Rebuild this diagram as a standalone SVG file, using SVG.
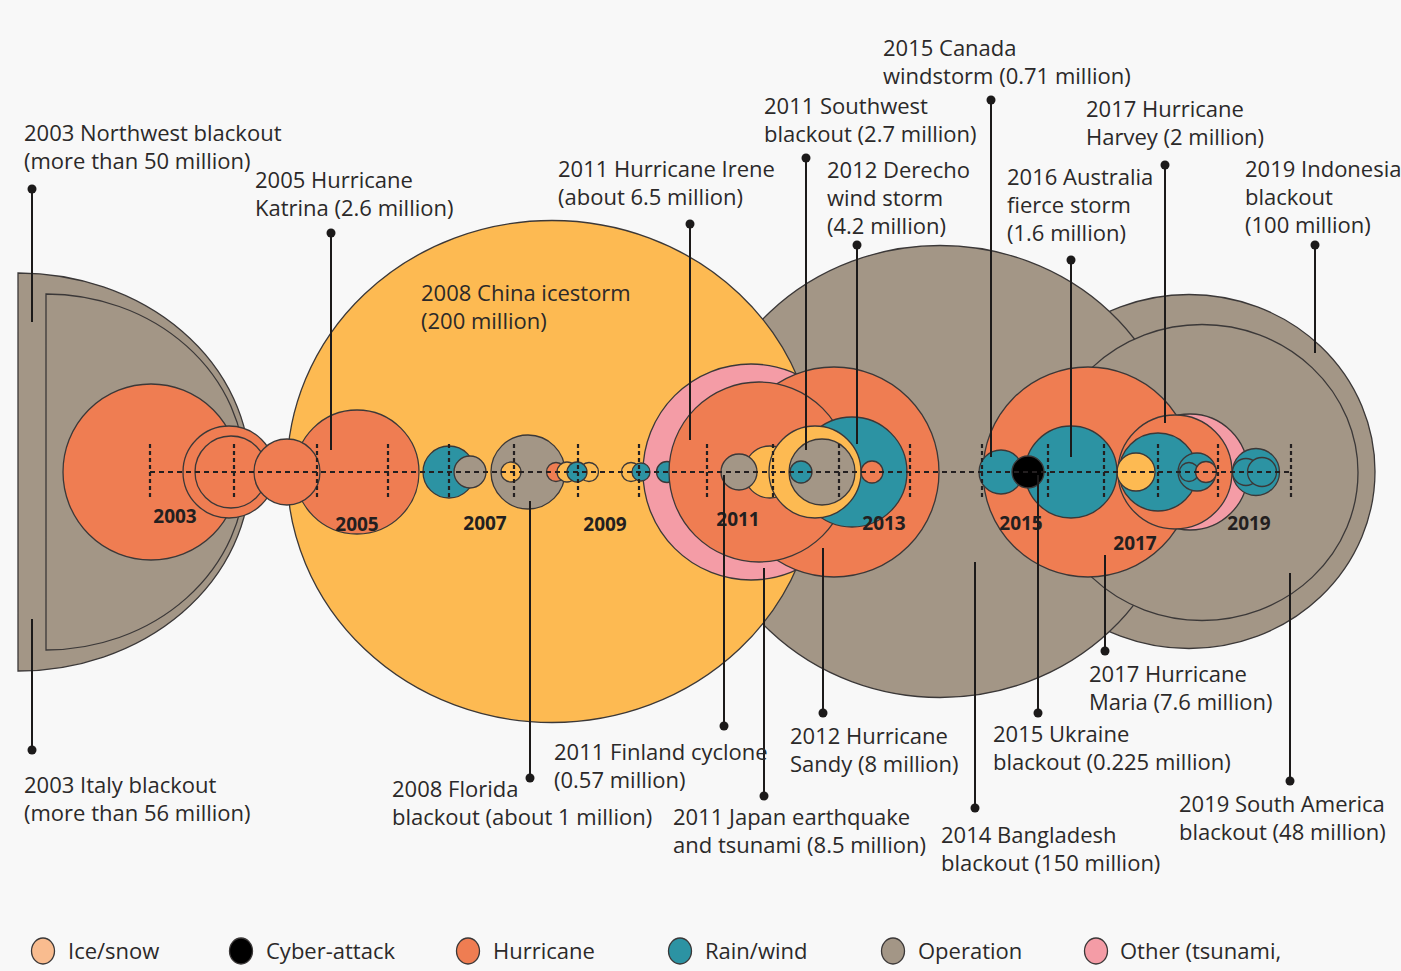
<svg xmlns="http://www.w3.org/2000/svg" width="1401" height="971" viewBox="0 0 1401 971">
<style>
.c{stroke:#3b3838;stroke-width:1.3}
.o{fill:#EF7D52}.y{fill:#FDBA52}.t{fill:#2C93A3}.g{fill:#A39686}.p{fill:#F49CA6}.k{fill:#000}.s{fill:#F9BC8F}
.lbl{font-family:"Open Sans","Liberation Sans",sans-serif;font-size:22px;fill:#2b2929}
.yr{font-family:"Open Sans","Liberation Sans",sans-serif;font-size:19px;font-weight:bold;fill:#231f20;text-anchor:middle}
.ln{stroke:#1c1a1a;stroke-width:2;fill:none}
.dot{fill:#1c1a1a}
.ax{stroke:#231f20;stroke-width:2.2;stroke-dasharray:5 4;fill:none}
.tk{stroke:#231f20;stroke-width:2.2;stroke-dasharray:4 3;fill:none}
</style>
<rect width="1401" height="971" fill="#F8F8F8"/>

<g id="big-shapes">
<path id="n-2003-northwest" class="c g" d="M18,273 A232,199 0 0 1 18,671 Z"/>
<path id="n-2003-italy" class="c g" d="M46,294 A199,178 0 0 1 46,650 Z"/>
<ellipse id="n-2019-indonesia" class="c g" cx="1189" cy="471.5" rx="186" ry="177"/>
<ellipse id="n-2014-bangladesh" class="c g" cx="940" cy="471.5" rx="240" ry="226"/>
<ellipse id="n-2008-china" class="c y" cx="552" cy="471.5" rx="265" ry="251"/>
<ellipse id="n-2019-southamerica" class="c g" cx="1202" cy="472.5" rx="156" ry="148"/>
</g>

<g id="circles-2003-2010">
<circle id="n-2003-a" class="c o" cx="151" cy="472" r="88"/>
<circle id="n-2004-a" class="c o" cx="229" cy="472" r="46"/>
<circle id="n-2004-b" class="c o" cx="231" cy="472" r="36"/>
<circle id="n-2005-katrina" class="c o" cx="357" cy="472" r="62"/>
<circle id="n-2004-c" class="c o" cx="287" cy="472" r="33"/>
<circle id="n-2006-a" class="c t" cx="449" cy="472" r="26"/>
<circle id="n-2007-a" class="c g" cx="470" cy="472" r="16"/>
<circle id="n-2008-florida" class="c g" cx="528" cy="472" r="37"/>
<circle id="n-2008-b" class="c y" cx="511" cy="472" r="10"/>
<circle id="n-2009-a" class="c o" cx="556" cy="472" r="9.5"/>
<circle id="n-2009-b" class="c y" cx="567" cy="472" r="10"/>
<circle id="n-2009-c" class="c y" cx="589" cy="472" r="9.5"/>
<circle id="n-2009-d" class="c t" cx="577" cy="472" r="10"/>
<circle id="n-2010-a" class="c y" cx="631" cy="472" r="9.5"/>
</g>

<g id="circles-2011-2013">
<circle id="n-2011-japan" class="c p" cx="751" cy="472" r="108"/>
<circle id="n-2010-b" class="c t" cx="641" cy="472" r="9"/>
<circle id="n-2010-c" class="c t" cx="667" cy="472" r="10.5"/>
<circle id="n-2012-sandy" class="c o" cx="834" cy="472" r="105"/>
<circle id="n-2011-irene" class="c o" cx="759" cy="472" r="90"/>
<circle id="n-2012-derecho" class="c t" cx="852" cy="472" r="55"/>
<circle id="n-2011-b" class="c y" cx="770" cy="472" r="26"/>
<circle id="n-2011-c" class="c y" cx="815" cy="472" r="46"/>
<circle id="n-2011-southwest" class="c g" cx="822" cy="472" r="33"/>
<circle id="n-2011-finland" class="c g" cx="739" cy="472" r="18"/>
<circle id="n-2012-b" class="c t" cx="801" cy="472" r="11"/>
<circle id="n-2013-a" class="c o" cx="872" cy="472" r="11"/>
</g>

<g id="circles-2015-2019">
<circle id="n-2017-maria" class="c o" cx="1088" cy="472" r="105"/>
<circle id="n-2018-a" class="c p" cx="1190" cy="472" r="58"/>
<circle id="n-2017-harvey" class="c o" cx="1175" cy="472" r="57"/>
<circle id="n-2017-b" class="c t" cx="1158" cy="472" r="39"/>
<circle id="n-2017-c" class="c y" cx="1136" cy="472" r="19"/>
<circle id="n-2018-b" class="c t" cx="1197" cy="472" r="19"/>
<circle id="n-2018-c" class="c t" cx="1189" cy="472" r="9.5"/>
<circle id="n-2018-d" class="c o" cx="1206" cy="472" r="10.5"/>
<circle id="n-2019-a" class="c t" cx="1256" cy="472" r="23.5"/>
<circle id="n-2019-b" class="c t" cx="1246" cy="472" r="13.5"/>
<circle id="n-2019-c" class="c t" cx="1262" cy="472" r="14.5"/>
<circle id="n-2015-canada" class="c t" cx="1001" cy="472" r="22"/>
<circle id="n-2016-australia" class="c t" cx="1071" cy="472" r="46"/>
<circle id="n-2015-ukraine" class="c k" cx="1028" cy="472" r="16"/>
</g>

<g id="axis">
<line class="ax" x1="150" y1="472" x2="1292" y2="472"/>
<path class="tk" d="M150,444V500M234,444V500M317,444V500M388,444V500M449,444V500M514,444V500M578,444V500M639,444V500M707,444V500M773,444V500M839,444V500M910,444V500M982,444V500M1048,444V500M1104,444V500M1158,444V500M1218,444V500M1291,444V500"/>
</g>

<g id="years">
<text class="yr" x="175" y="523">2003</text>
<text class="yr" x="357" y="531">2005</text>
<text class="yr" x="485" y="530">2007</text>
<text class="yr" x="605" y="531">2009</text>
<text class="yr" x="738" y="526">2011</text>
<text class="yr" x="884" y="530">2013</text>
<text class="yr" x="1021" y="530">2015</text>
<text class="yr" x="1135" y="550">2017</text>
<text class="yr" x="1249" y="530">2019</text>
</g>

<g id="connectors">
<path class="ln" d="M32,189V322M32,750V619M331,233V450M530,778V501M690,224V440M806,158V450M857,245V444M991,100V457M1071,260V457M1165,165V423M1315,245V353M724,726V475M764,796V568M823,713V548M975,808V562M1038,713V475M1105,651V555M1290,781V573"/>
<g class="dot">
<circle cx="32" cy="189" r="4.5"/><circle cx="32" cy="750" r="4.5"/><circle cx="331" cy="233" r="4.5"/><circle cx="530" cy="778" r="4.5"/><circle cx="690" cy="224" r="4.5"/><circle cx="806" cy="158" r="4.5"/><circle cx="857" cy="245" r="4.5"/><circle cx="991" cy="100" r="4.5"/><circle cx="1071" cy="260" r="4.5"/><circle cx="1165" cy="165" r="4.5"/><circle cx="1315" cy="245" r="4.5"/><circle cx="724" cy="726" r="4.5"/><circle cx="764" cy="796" r="4.5"/><circle cx="823" cy="713" r="4.5"/><circle cx="975" cy="808" r="4.5"/><circle cx="1038" cy="713" r="4.5"/><circle cx="1105" cy="651" r="4.5"/><circle cx="1290" cy="781" r="4.5"/>
</g>
</g>

<g id="labels" class="lbl">
<text x="24" y="141">2003 Northwest blackout</text><text x="24" y="169">(more than 50 million)</text>
<text x="255" y="188">2005 Hurricane</text><text x="255" y="216">Katrina (2.6 million)</text>
<text x="421" y="301">2008 China icestorm</text><text x="421" y="329">(200 million)</text>
<text x="558" y="177">2011 Hurricane Irene</text><text x="558" y="205">(about 6.5 million)</text>
<text x="764" y="114">2011 Southwest</text><text x="764" y="142">blackout (2.7 million)</text>
<text x="827" y="178">2012 Derecho</text><text x="827" y="206">wind storm</text><text x="827" y="234">(4.2 million)</text>
<text x="883" y="56">2015 Canada</text><text x="883" y="84">windstorm (0.71 million)</text>
<text x="1007" y="185">2016 Australia</text><text x="1007" y="213">fierce storm</text><text x="1007" y="241">(1.6 million)</text>
<text x="1086" y="117">2017 Hurricane</text><text x="1086" y="145">Harvey (2 million)</text>
<text x="1245" y="177">2019 Indonesia</text><text x="1245" y="205">blackout</text><text x="1245" y="233">(100 million)</text>
<text x="24" y="793">2003 Italy blackout</text><text x="24" y="821">(more than 56 million)</text>
<text x="392" y="797">2008 Florida</text><text x="392" y="825">blackout (about 1 million)</text>
<text x="554" y="760">2011 Finland cyclone</text><text x="554" y="788">(0.57 million)</text>
<text x="673" y="825">2011 Japan earthquake</text><text x="673" y="853">and tsunami (8.5 million)</text>
<text x="790" y="744">2012 Hurricane</text><text x="790" y="772">Sandy (8 million)</text>
<text x="941" y="843">2014 Bangladesh</text><text x="941" y="871">blackout (150 million)</text>
<text x="993" y="742">2015 Ukraine</text><text x="993" y="770">blackout (0.225 million)</text>
<text x="1089" y="682">2017 Hurricane</text><text x="1089" y="710">Maria (7.6 million)</text>
<text x="1179" y="812">2019 South America</text><text x="1179" y="840">blackout (48 million)</text>
</g>

<g id="legend">
<ellipse class="c s" cx="43" cy="951" rx="11.5" ry="13"/><text class="lbl" x="68" y="959">Ice/snow</text>
<ellipse class="c k" cx="241" cy="951" rx="11.5" ry="13"/><text class="lbl" x="266" y="959">Cyber-attack</text>
<ellipse class="c o" cx="468" cy="951" rx="11.5" ry="13"/><text class="lbl" x="493" y="959">Hurricane</text>
<ellipse class="c t" cx="680" cy="951" rx="11.5" ry="13"/><text class="lbl" x="705" y="959">Rain/wind</text>
<ellipse class="c g" cx="893" cy="951" rx="11.5" ry="13"/><text class="lbl" x="918" y="959">Operation</text>
<ellipse class="c p" cx="1096" cy="951" rx="11.5" ry="13"/><text class="lbl" x="1120" y="959">Other (tsunami,</text>
</g>
</svg>
